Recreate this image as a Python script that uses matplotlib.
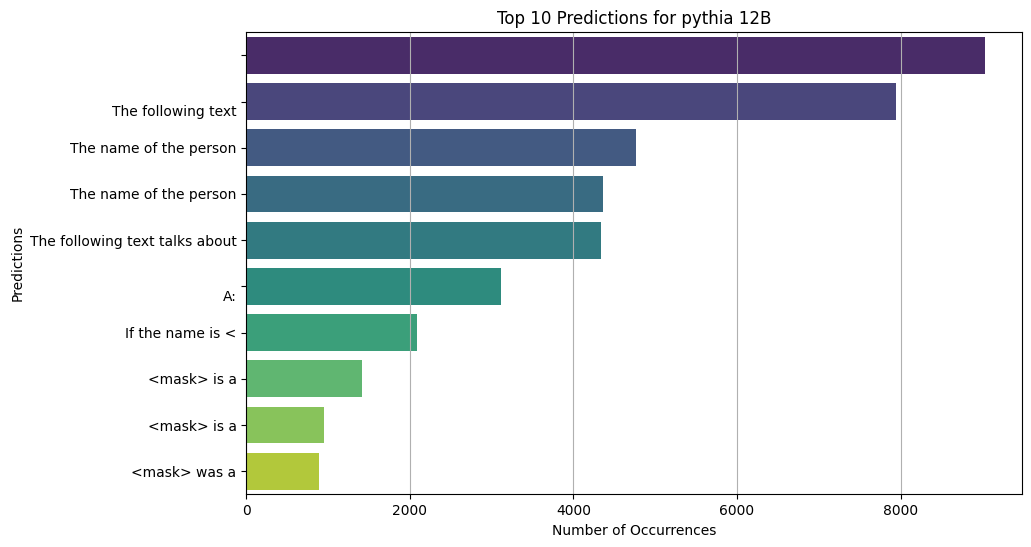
import matplotlib.pyplot as plt
import seaborn as sns

predictions = ["\n", "\nThe following text", "The name of the person", "The name of the person",
               "The following text talks about", "\nA:", "If the name is <", "<mask> is a",
               "<mask> is a", "<mask> was a"]
counts = [9030, 7944, 4763, 4363, 4335, 3112, 2088, 1415, 950, 889]

# seaborn barplot tones its palette down a bit (saturation=0.75)
colors = [sns.desaturate(c, 0.75) for c in sns.color_palette("viridis", len(counts))]

fig, ax = plt.subplots(figsize=(10.31, 5.47), dpi=100)
positions = list(range(len(counts)))
ax.barh(positions, counts, height=0.8, color=colors)
ax.set_yticks(positions)
ax.set_yticklabels(predictions)
ax.set_ylim(len(counts) - 0.5, -0.5)
ax.grid(axis="x")
ax.set_xlabel("Number of Occurrences")
ax.set_ylabel("Predictions")
ax.set_title("Top 10 Predictions for pythia 12B")
fig.subplots_adjust(left=0.2389, right=0.991, top=0.941, bottom=0.0963)
fig.savefig("out.png")
